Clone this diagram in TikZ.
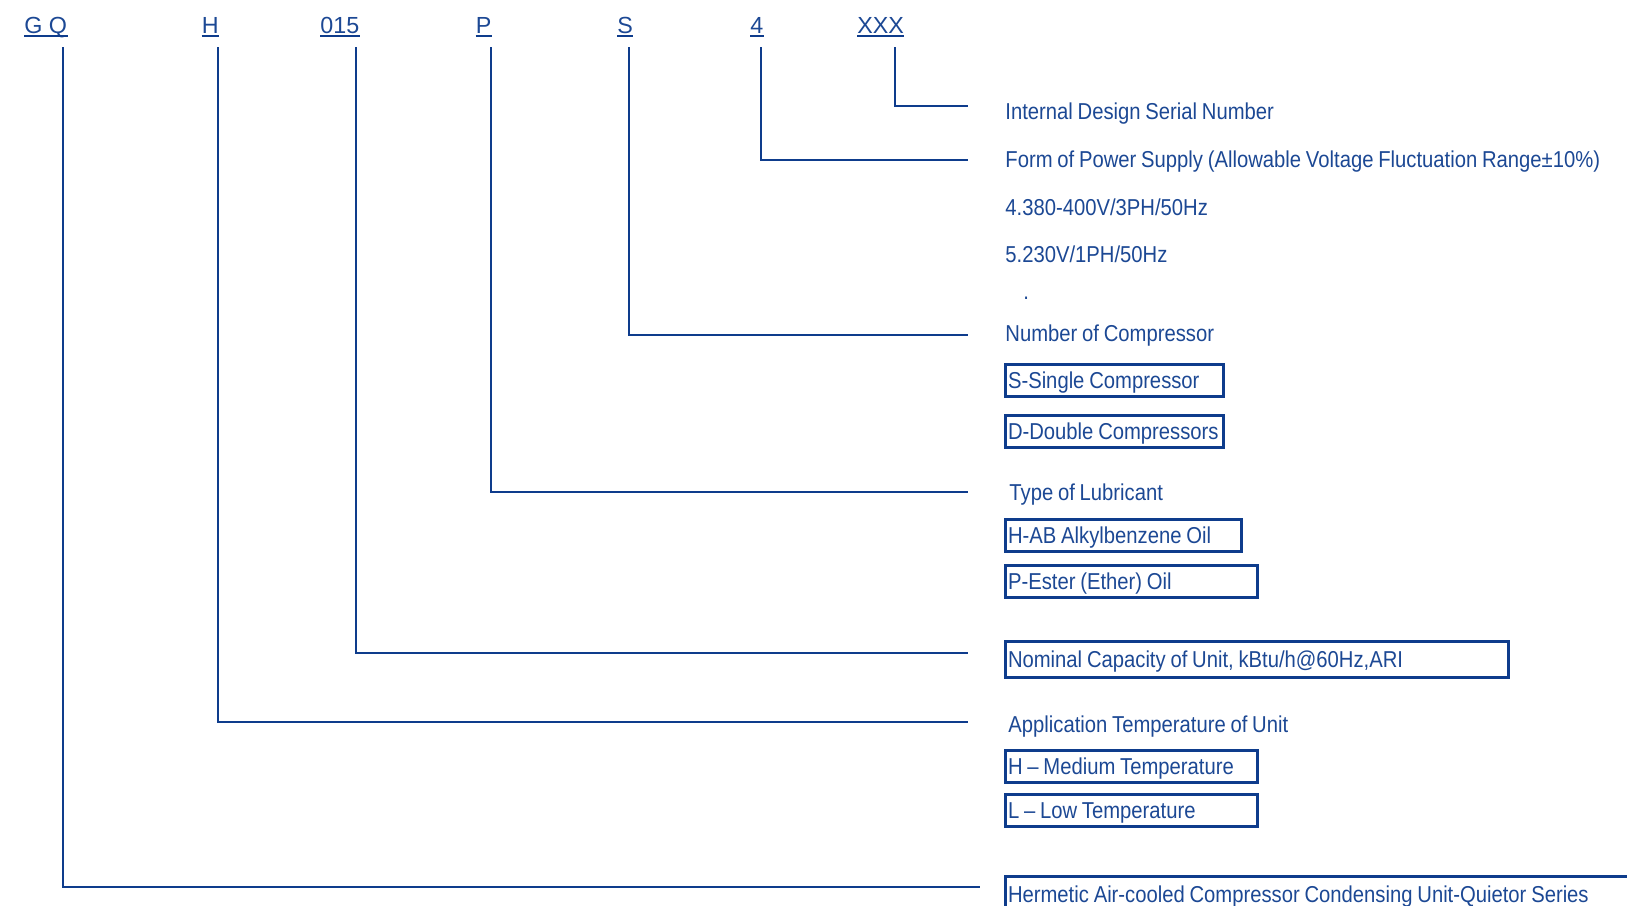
\documentclass[tikz,border=0pt]{standalone}
\usepackage{fontspec}
\setmainfont{Liberation Sans}[FakeStretch=0.88,WordSpace=0.85]
\newfontfamily\codefont{Liberation Sans}
\usetikzlibrary{positioning}

\definecolor{lineBlue}{RGB}{14,60,140}
\definecolor{textBlue}{RGB}{28,72,148}

\begin{document}
\begin{tikzpicture}[x=0.5pt,y=-0.5pt,
  code/.style={text=textBlue, font=\codefont\fontsize{11.65}{14}\selectfont,
    inner sep=0pt, anchor=base west, text height=8.35pt, text depth=1.25pt,
    append after command={(\tikzlastnode.south west) edge[draw=lineBlue, line width=1pt] (\tikzlastnode.south east)}},
  desc/.style={text=textBlue, font=\fontsize{11.5}{14}\selectfont,
    inner sep=0pt, anchor=west, text height=8.25pt, text depth=0pt},
  optbox/.style={desc, draw=lineBlue, line width=1.5pt, inner xsep=1.5pt,
    minimum height=16pt,
    execute at begin node={\hbox to #1\bgroup},
    execute at end node={\hss\egroup}},
  lead/.style={draw=lineBlue, line width=1pt}]

\clip (0,0) rectangle (1627,905);

% code letters
\node[code] (gq)   at (24,33)    {G Q};
\node[code] (h)    at (201.5,33) {H};
\node[code] (cap)  at (320,33)   {015};
\node[code] (p)    at (475.5,33) {P};
\node[code] (s)    at (617,33)   {S};
\node[code] (four) at (750,33)   {4};
\node[code] (xxx)  at (857,33)   {XXX};

% leaders
\foreach \nm/\lx/\ly/\ex in {xxx/895/106/968, four/761/160/968, s/628.5/335/968,
    p/490.5/492/968, cap/355.6/653/968, h/218/722/968, gq/62.5/887/980}
{
  \coordinate (\nm top) at (\lx,47);
  \coordinate (\nm end) at (\ex,\ly);
  \draw[lead] (\nm top) |- (\nm end);
}

% serial and power supply
\node[desc] (serial) at (1005,111)   {Internal Design Serial Number};
\node[desc] (power)  at (1005,159.5) {Form of Power Supply (Allowable Voltage Fluctuation Range±10\%)};
\node[desc] (volt4)  at (1005,207)   {4.380-400V/3PH/50Hz};
\node[desc] (volt5)  at (1005,254)   {5.230V/1PH/50Hz};
\node[desc, anchor=base west] (more) at (1023,299) {.};

% compressors
\node[desc] (number) at (1005,333) {Number of Compressor};
\node[optbox=106pt] (single) at (1003.5,380)   {S-Single Compressor};
\node[optbox=106pt] (double) at (1003.5,431.5) {D-Double Compressors};

% lubricant
\node[desc] (lube) at (1009,492.5) {Type of Lubricant};
\node[optbox=115pt] (abOil)    at (1003.5,535.5) {H-AB Alkylbenzene Oil};
\node[optbox=123pt] (esterOil) at (1003.5,581)   {P-Ester (Ether) Oil};

% capacity
\node[optbox=248.5pt, minimum height=18pt] (capacity) at (1003.5,659) {Nominal Capacity of Unit, kBtu/h@60Hz,ARI};

% temperature
\node[desc] (apptemp) at (1008,724.5) {Application Temperature of Unit};
\node[optbox=123pt] (medium) at (1003.5,766.5) {H -- Medium Temperature};
\node[optbox=123pt] (low)    at (1003.5,810)   {L -- Low Temperature};

% series
\node[optbox=360pt, minimum height=18pt, anchor=north west] (series) at (1003.5,875)
  {Hermetic Air-cooled Compressor Condensing Unit-Quietor Series};

\end{tikzpicture}
\end{document}
